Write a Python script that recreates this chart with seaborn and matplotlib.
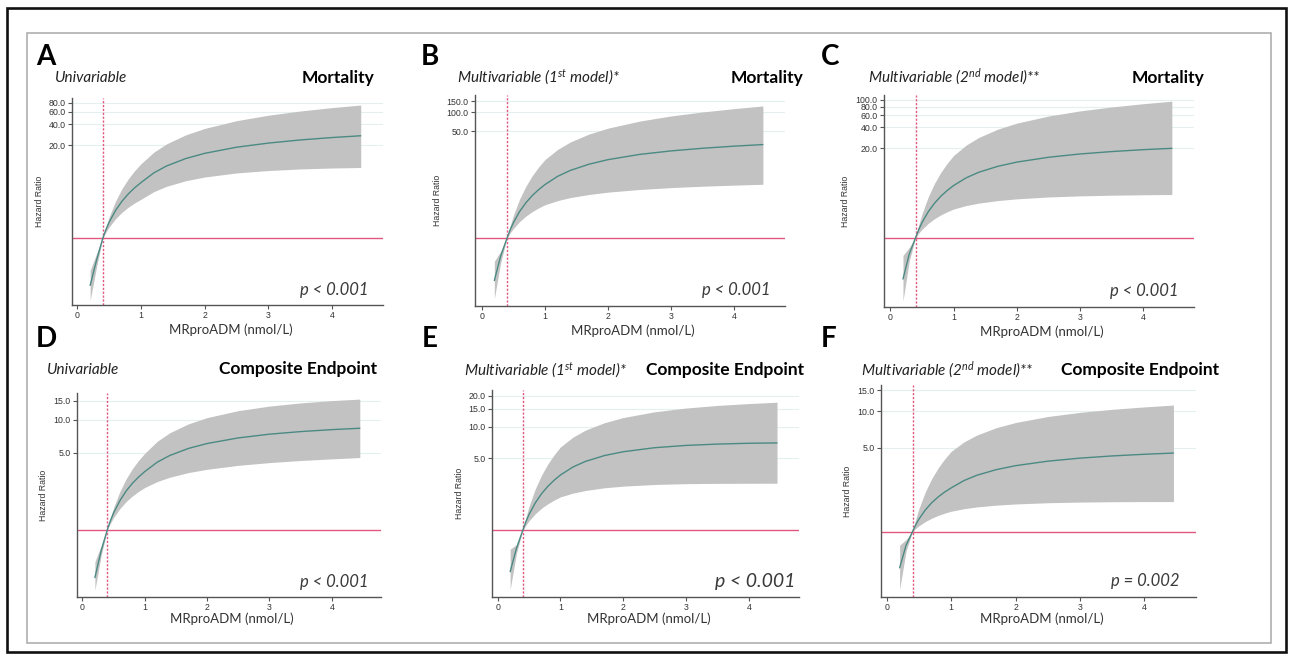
import numpy as np
import pandas as pd
import seaborn as sns
import matplotlib
matplotlib.use("Agg")
import matplotlib.pyplot as plt
from matplotlib.patches import Rectangle
from matplotlib.ticker import FixedLocator, FixedFormatter, NullLocator

# ---- data (hazard ratio vs MRproADM, ref = 0.4 nmol/L) ----
x_pts = [0.2, 0.3, 0.4, 0.45, 0.5, 0.6, 0.7, 0.8, 0.9, 1.0,
         1.2, 1.4, 1.7, 2.0, 2.5, 3.0, 3.5, 4.0, 4.45]

hr_A = [0.215, 0.484, 1, 1.324, 1.675, 2.443, 3.281, 4.169, 5.082, 6.012,
        8.222, 10.28, 13.06, 15.49, 18.88, 21.58, 23.88, 25.82, 27.35]
lo_A = [0.132, 0.39, 1, 1.216, 1.432, 1.866, 2.296, 2.710, 3.112, 3.5,
        4.477, 5.321, 6.368, 7.194, 8.204, 8.872, 9.333, 9.627, 9.795]
hi_A = [0.35, 0.6, 1, 1.455, 1.995, 3.311, 4.932, 6.792, 8.851, 11.09,
        16.07, 21.04, 28.12, 34.67, 44.57, 53.21, 60.95, 68.08, 73.96]

hr_B = [0.213, 0.52, 1, 1.358, 1.754, 2.655, 3.664, 4.753, 5.902, 7.096,
        9.594, 11.91, 15.0, 17.7, 21.43, 24.38, 26.85, 29.0, 30.69]
lo_B = [0.11, 0.41, 1, 1.211, 1.419, 1.837, 2.249, 2.649, 3.027, 3.396,
        3.954, 4.416, 4.955, 5.395, 5.943, 6.368, 6.699, 6.974, 7.194]
hi_B = [0.43, 0.62, 1, 1.567, 2.280, 4.188, 6.714, 9.840, 13.52, 17.7,
        25.64, 33.65, 45.19, 55.98, 72.44, 87.5, 101.2, 114.4, 125.9]

hr_C = [0.25, 0.58, 1, 1.312, 1.648, 2.377, 3.170, 3.999, 4.842, 5.702,
        7.396, 8.913, 10.86, 12.5, 14.69, 16.41, 17.78, 18.95, 19.82]
lo_C = [0.12, 0.46, 1, 1.161, 1.315, 1.611, 1.884, 2.138, 2.377, 2.6,
        2.924, 3.170, 3.451, 3.656, 3.890, 4.036, 4.130, 4.188, 4.227]
hi_C = [0.55, 0.72, 1, 1.535, 2.198, 3.926, 6.180, 8.913, 12.05, 15.6,
        22.13, 28.58, 37.67, 46.03, 58.34, 69.34, 79.07, 88.2, 95.94]

hr_D = [0.365, 0.64, 1, 1.209, 1.419, 1.832, 2.244, 2.636, 3.013, 3.381,
        4.117, 4.738, 5.495, 6.095, 6.855, 7.413, 7.828, 8.157, 8.395]
lo_D = [0.28, 0.58, 1, 1.148, 1.288, 1.552, 1.799, 2.023, 2.228, 2.421,
        2.742, 3.002, 3.311, 3.548, 3.855, 4.083, 4.266, 4.416, 4.539]
hi_D = [0.51, 0.71, 1, 1.284, 1.585, 2.222, 2.893, 3.581, 4.272, 4.966,
        6.383, 7.632, 9.204, 10.5, 12.15, 13.37, 14.29, 15.0, 15.49]

hr_E = [0.40, 0.67, 1, 1.212, 1.424, 1.847, 2.263, 2.667, 3.052, 3.428,
        4.10, 4.645, 5.284, 5.754, 6.295, 6.622, 6.823, 6.95, 7.0]
lo_E = [0.27, 0.60, 1, 1.123, 1.239, 1.449, 1.641, 1.811, 1.965, 2.109,
        2.296, 2.432, 2.582, 2.679, 2.780, 2.831, 2.850, 2.855, 2.86]
hi_E = [0.66, 0.73, 1, 1.336, 1.703, 2.52, 3.422, 4.382, 5.374, 6.397,
        7.962, 9.311, 10.96, 12.3, 13.98, 15.2, 16.11, 16.79, 17.3]

hr_F = [0.50, 0.77, 1, 1.14, 1.272, 1.518, 1.743, 1.949, 2.137, 2.312,
        2.663, 2.948, 3.281, 3.54, 3.858, 4.09, 4.266, 4.404, 4.508]
lo_F = [0.33, 0.69, 1, 1.063, 1.119, 1.215, 1.296, 1.366, 1.426, 1.479,
        1.552, 1.606, 1.662, 1.70, 1.74, 1.762, 1.774, 1.779, 1.78]
hi_F = [0.77, 0.86, 1, 1.271, 1.555, 2.151, 2.773, 3.402, 4.029, 4.656,
        5.586, 6.368, 7.327, 8.091, 9.078, 9.826, 10.42, 10.91, 11.3]

panels = ["A", "B", "C", "D", "E", "F"]
models = ["Univariable",
          "Multivariable (1$^{\\rm st}$ model)*",
          "Multivariable (2$^{\\rm nd}$ model)**"] * 2
outcomes = ["Mortality"] * 3 + ["Composite Endpoint"] * 3
pvals = ["p < 0.001"] * 5 + ["p = 0.002"]
yticks = {"A": [20, 40, 60, 80], "B": [50, 100, 150], "C": [20, 40, 60, 80, 100],
          "D": [5, 10, 15], "E": [5, 10, 15, 20], "F": [5, 10, 15]}
xticks = [0, 1, 2, 3, 4]
ref_x = 0.4
ref_hr = 1.0

series = {"A": (hr_A, lo_A, hi_A), "B": (hr_B, lo_B, hi_B), "C": (hr_C, lo_C, hi_C),
          "D": (hr_D, lo_D, hi_D), "E": (hr_E, lo_E, hi_E), "F": (hr_F, lo_F, hi_F)}
df = pd.concat([pd.DataFrame({"panel": k, "x": x_pts, "hr": v[0], "lo": v[1], "hi": v[2]})
                for k, v in series.items()], ignore_index=True)

# ---- layout (pixels of the 1291x656 canvas) ----
W, H = 1291, 656
rects = {"A": (72, 98, 383, 305), "B": (475, 95, 785, 306), "C": (884, 95, 1194, 307),
         "D": (77, 393, 381, 597), "E": (492, 390, 799, 597), "F": (881, 385, 1196, 597)}
xlims = {"A": (-0.085, 4.80), "B": (-0.106, 4.80), "C": (-0.10, 4.80),
         "D": (-0.087, 4.79), "E": (-0.089, 4.80), "F": (-0.089, 4.80)}
ylims = {"A": (0.114, 92.9), "B": (0.084, 188), "C": (0.098, 118),
         "D": (0.243, 17.6), "E": (0.228, 22.7), "F": (0.286, 16.6)}
letter_pos = {"A": (36, 65), "B": (421, 65), "C": (821, 65),
              "D": (36, 347), "E": (422, 347), "F": (821, 347)}
model_pos = {"A": (55, 82), "B": (457, 82), "C": (868, 82),
             "D": (47, 374), "E": (464, 375), "F": (861, 375)}
outcome_pos = {"A": (374, 83), "B": (803, 83), "C": (1204, 83),
               "D": (377, 374), "E": (804, 375), "F": (1219, 375)}
p_xfrac = {"A": 0.952, "B": 0.952, "C": 0.951, "D": 0.96, "E": 0.987, "F": 0.949}
p_size = {"A": 12, "B": 12, "C": 12, "D": 12, "E": 14, "F": 12}
ylab_off = {"A": 33, "B": 38, "C": 39, "D": 33, "E": 33, "F": 34}

sns.set_theme(style="ticks")
plt.rcParams["font.family"] = ["Lato", "DejaVu Sans"]
plt.rcParams["mathtext.fontset"] = "custom"
plt.rcParams["mathtext.rm"] = "Lato:italic"
plt.rcParams["mathtext.it"] = "Lato:italic"

fig = plt.figure(figsize=(W / 100, H / 100), dpi=100)
fig.patch.set_facecolor("white")


def ftext(px, py, s, **kw):
    fig.text(px / W, 1 - py / H, s, va="baseline", **kw)


band_col = "#c2c2c2"
line_col = "#4b8a83"
red_col = "#e2577f"

for i, key in enumerate(panels):
    l, t, r, b = rects[key]
    ax = fig.add_axes([l / W, 1 - b / H, (r - l) / W, (b - t) / H])
    sub = df[df.panel == key]
    ax.set_yscale("log")
    ax.fill_between(sub.x, sub.lo, sub.hi, color=band_col, lw=0, zorder=1)
    sns.lineplot(data=sub, x="x", y="hr", ax=ax, color=line_col, lw=1.0, zorder=3)
    ax.axhline(ref_hr, color=red_col, lw=1.0, zorder=2)
    ax.axvline(ref_x, color=red_col, lw=1.0, ls=(0, (1.6, 1.2)), zorder=2)

    ax.set_xlim(*xlims[key])
    ax.set_ylim(*ylims[key])
    ax.yaxis.set_major_locator(FixedLocator(yticks[key]))
    ax.yaxis.set_major_formatter(FixedFormatter([f"{v:.1f}" for v in yticks[key]]))
    ax.yaxis.set_minor_locator(NullLocator())
    ax.set_xticks(xticks)
    ax.set_xticklabels([str(v) for v in xticks])
    ax.grid(axis="y", which="major", color="#e4efef", lw=0.8, zorder=0)
    ax.set_axisbelow(True)

    sns.despine(ax=ax)
    for sp in ("left", "bottom"):
        ax.spines[sp].set_color("#555555")
        ax.spines[sp].set_linewidth(1.0)
    ax.tick_params(axis="both", direction="out", length=3, width=0.8, color="#555555",
                   labelsize=6.3, labelcolor="#333333", pad=1.5)
    for lbl in ax.get_xticklabels() + ax.get_yticklabels():
        lbl.set_family("Liberation Sans")

    ax.set_xlabel("MRproADM (nmol/L)", fontsize=9.5, color="#333333")
    ax.xaxis.label.set_va("center")
    top_row = i < 3
    ax.xaxis.set_label_coords(0.51, -(25 if top_row else 22) / (b - t))
    ax.set_ylabel("Hazard Ratio", fontsize=6.3, color="#333333", family="Liberation Sans")
    ax.yaxis.label.set_va("center")
    ax.yaxis.set_label_coords(-ylab_off[key] / (r - l), 0.5)

    ax.text(p_xfrac[key], 0.05, pvals[i], transform=ax.transAxes,
            ha="right", va="baseline", fontsize=p_size[key], style="italic",
            color="#3a3a3a")

    ftext(*letter_pos[key], key, fontsize=20, fontweight="bold", color="black")
    ftext(*model_pos[key], models[i], fontsize=11, style="italic", color="#222222")
    ftext(*outcome_pos[key], outcomes[i], fontsize=12.5, fontweight="bold",
          color="black", ha="right")

# outer frames
fig.add_artist(Rectangle((7 / W, 1 - 652 / H), (1286 - 7) / W, (652 - 8) / H,
                         transform=fig.transFigure, fill=False, ec="#111111", lw=1.9))
fig.add_artist(Rectangle((27 / W, 1 - 643 / H), (1271 - 27) / W, (643 - 33) / H,
                         transform=fig.transFigure, fill=False, ec="#a8a8a8", lw=1.1))

fig.savefig("out.png", dpi=100)
